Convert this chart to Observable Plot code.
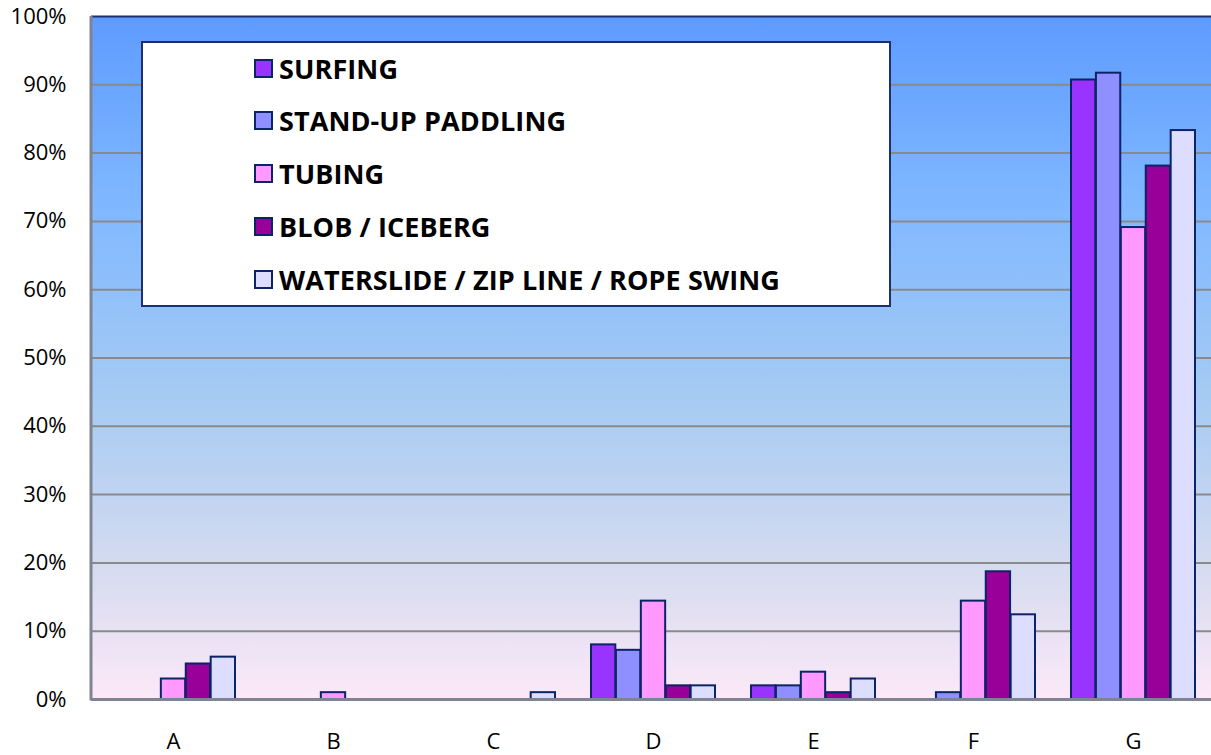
<!DOCTYPE html>
<html>
<head>
<meta charset="utf-8">
<script src="https://cdn.jsdelivr.net/npm/d3@7"></script>
<script src="https://cdn.jsdelivr.net/npm/@observablehq/plot@0.6"></script>
<style>
  html, body { margin: 0; padding: 0; background: #fff; }
  #wrap { position: relative; width: 1211px; height: 755px; overflow: hidden; }
  #legend {
    position: absolute; left: 141px; top: 41px; width: 746px; height: 262px;
    background: #fff; border: 2px solid #1c2f6e; box-sizing: content-box;
    font-family: "Open Sans", sans-serif; font-weight: 700;
  }
  .item { position: absolute; left: 111px; height: 30px; display: flex; align-items: center; }
  .sw { width: 15px; height: 15px; border: 2px solid #0b2466; margin-right: 6px; }
  .lbl { font-size: 27px; color: #000; white-space: nowrap; letter-spacing: 0.1px; }
</style>
</head>
<body>
<div id="wrap"></div>
<script>
const categories = ["A", "B", "C", "D", "E", "F", "G"];
const seriesNames = ["SURFING", "STAND-UP PADDLING", "TUBING", "BLOB / ICEBERG", "WATERSLIDE / ZIP LINE / ROPE SWING"];
const surfing    = [0, 0, 0, 8, 2, 0, 90.7];
const paddling   = [0, 0, 0, 7.2, 2, 1, 91.7];
const tubing     = [3, 1, 0, 14.4, 4, 14.4, 69.1];
const blob       = [5.2, 0, 0, 2, 1, 18.7, 78.1];
const waterslide = [6.2, 0, 1, 2, 3, 12.4, 83.3];
const seriesColors = ["#9933FF", "#8F8FFF", "#FF99FF", "#990099", "#DDDDFF"];
const yTicks = [0, 10, 20, 30, 40, 50, 60, 70, 80, 90, 100];

const seriesValues = [surfing, paddling, tubing, blob, waterslide];

const width = 1211, height = 755;
const marginLeft = 91, marginRight = -4, marginTop = 16, marginBottom = 56;
const padInner = 0.224;
const step = (width - marginLeft - marginRight) / categories.length;
const barW = step * (1 - padInner) / seriesNames.length;

const bgMark = () => {
  const ns = "http://www.w3.org/2000/svg";
  const g = document.createElementNS(ns, "g");
  const defs = document.createElementNS(ns, "defs");
  const lg = document.createElementNS(ns, "linearGradient");
  lg.setAttribute("id", "bg");
  lg.setAttribute("x1", "0"); lg.setAttribute("y1", "0");
  lg.setAttribute("x2", "0"); lg.setAttribute("y2", "1");
  [["0", "#5E9BFF"], ["0.28", "#80B8FF"], ["0.58", "#A9CCF2"], ["0.82", "#D8DCF0"], ["1", "#FCE9F8"]].forEach(([o, c]) => {
    const s = document.createElementNS(ns, "stop");
    s.setAttribute("offset", o); s.setAttribute("stop-color", c);
    lg.appendChild(s);
  });
  defs.appendChild(lg);
  g.appendChild(defs);
  return g;
};

const bars = seriesNames.map((name, i) => {
  const rows = categories.map((c, j) => ({category: c, value: seriesValues[i][j]})).filter(d => d.value > 0);
  return Plot.barY(rows, {
    x: "category", y: "value",
    fill: seriesColors[i], stroke: "#0b2466", strokeWidth: 2,
    insetLeft: i * barW, insetRight: (seriesNames.length - 1 - i) * barW
  });
});

const chart = Plot.plot({
  width, height, marginLeft, marginRight, marginTop, marginBottom,
  style: {fontFamily: "'Open Sans', sans-serif", background: "transparent", overflow: "hidden"},
  x: {domain: categories, paddingInner: padInner, paddingOuter: padInner / 2, align: 0.5, label: null},
  y: {domain: [0, 100], label: null},
  marks: [
    bgMark,
    Plot.frame({fill: "url(#bg)", stroke: "none"}),
    Plot.gridY(yTicks.slice(1, -1), {stroke: "#8a8a8a", strokeOpacity: 1, strokeWidth: 2}),
    Plot.ruleY([100], {stroke: "#1c2f6e", strokeWidth: 2}),
    Plot.axisY(yTicks, {tickSize: 0, tickPadding: 25, tickFormat: d => d + "%", fontSize: 22, fill: "#000"}),
    Plot.axisX({tickSize: 0, tickPadding: 34, fontSize: 22, fill: "#000"}),
    ...bars,
    Plot.ruleY([0], {stroke: "#7f8495", strokeWidth: 3}),
    (index, scales, values, dims) => {
      const ns = "http://www.w3.org/2000/svg";
      const l = document.createElementNS(ns, "line");
      const x0 = dims.marginLeft;
      l.setAttribute("x1", x0); l.setAttribute("x2", x0);
      l.setAttribute("y1", scales.y(100)); l.setAttribute("y2", scales.y(0) + 1.5);
      l.setAttribute("stroke", "#7f8495"); l.setAttribute("stroke-width", 3);
      return l;
    }
  ]
});

const wrap = document.getElementById("wrap");
wrap.appendChild(chart);

const legend = document.createElement("div");
legend.id = "legend";
const rowTop = [10, 62, 115, 168, 221];
seriesNames.forEach((name, i) => {
  const item = document.createElement("div");
  item.className = "item";
  item.style.top = rowTop[i] + "px";
  const sw = document.createElement("div");
  sw.className = "sw";
  sw.style.background = seriesColors[i];
  const lbl = document.createElement("span");
  lbl.className = "lbl";
  lbl.textContent = name;
  item.appendChild(sw); item.appendChild(lbl);
  legend.appendChild(item);
});
wrap.appendChild(legend);
</script>
</body>
</html>
